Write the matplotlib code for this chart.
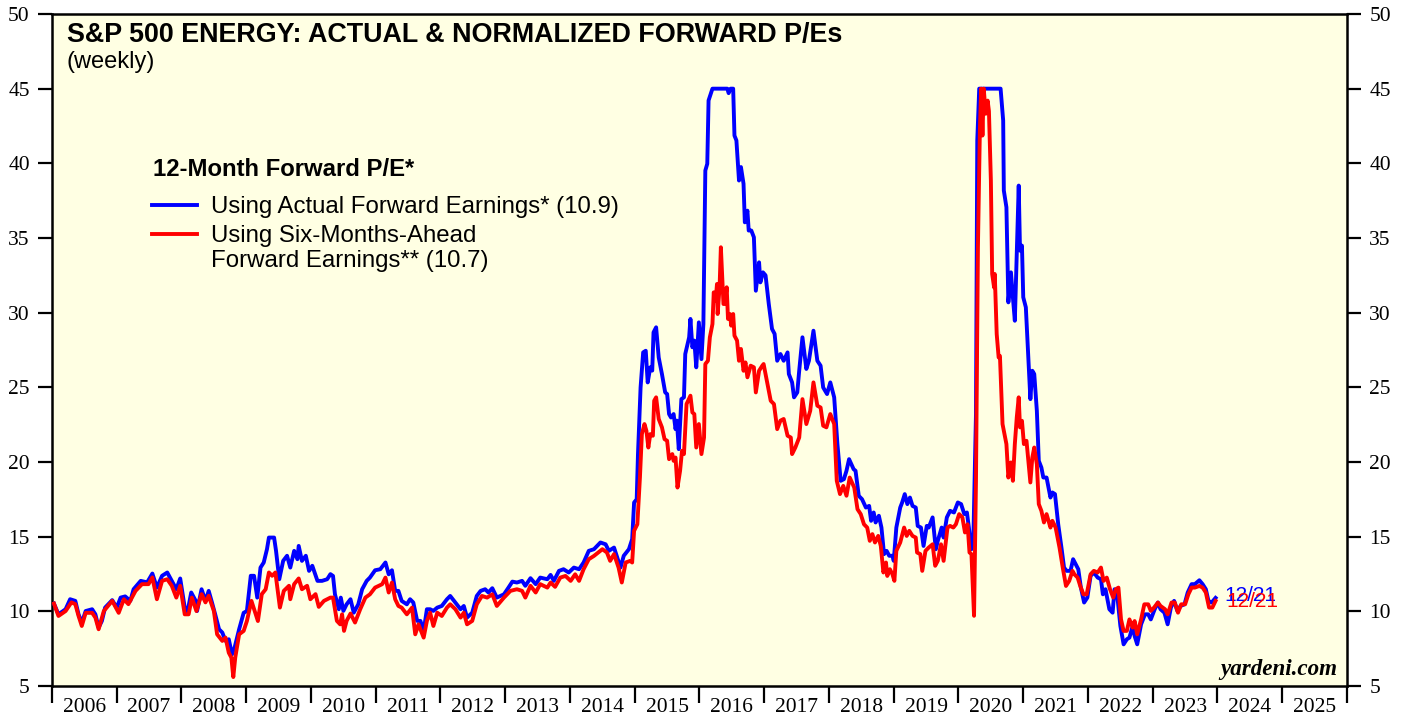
import matplotlib
matplotlib.use("Agg")
import matplotlib.pyplot as plt

# ---------------- data (decimal years, P/E values) ----------------
blue_t_a = [2006.03, 2006.10, 2006.21, 2006.28, 2006.36, 2006.41, 2006.46, 2006.52, 2006.62, 2006.67,
            2006.72, 2006.77, 2006.82, 2006.93, 2007.00, 2007.06, 2007.13, 2007.21, 2007.26, 2007.37,
            2007.47, 2007.55, 2007.62, 2007.70, 2007.78, 2007.85, 2007.92, 2007.98, 2008.05, 2008.09,
            2008.15, 2008.22, 2008.24, 2008.31, 2008.37, 2008.42, 2008.47, 2008.52, 2008.58, 2008.63,
            2008.68, 2008.73, 2008.78, 2008.82, 2008.89, 2008.96, 2009.01, 2009.07, 2009.12, 2009.17,
            2009.22, 2009.27, 2009.32, 2009.35, 2009.43, 2009.46, 2009.51, 2009.57, 2009.63, 2009.68,
            2009.74, 2009.79, 2009.81, 2009.86, 2009.92, 2009.97, 2010.02, 2010.10, 2010.17, 2010.25,
            2010.30]
blue_v_a = [10.52, 9.80, 10.14, 10.81, 10.70, 9.80, 9.24, 10.02, 10.14, 9.80,
            8.91, 9.35, 10.25, 10.75, 10.25, 10.92, 11.0, 10.7, 11.48, 12.04,
            11.94, 12.53, 11.59, 12.38, 12.6, 12.04, 11.48, 12.2, 10.25, 9.9,
            11.26, 10.7, 10.02, 11.48, 10.7, 11.37, 10.6, 9.8, 8.80, 8.58,
            8.02, 8.13, 7.12, 7.57, 8.80, 9.9, 10.02, 12.38, 12.38, 10.92,
            12.93, 13.27, 14.16, 14.94, 14.94, 14.05, 12.15, 13.38, 13.72, 12.93,
            14.05, 13.49, 14.38, 13.38, 13.72, 12.71, 13.05, 12.04, 12.04, 12.15,
            12.49]

blue_t_b = [2010.34, 2010.37, 2010.43, 2010.46, 2010.50, 2010.55, 2010.61, 2010.66, 2010.73, 2010.79,
            2010.86, 2010.91, 2010.99, 2011.07, 2011.15, 2011.20, 2011.25, 2011.30, 2011.35, 2011.40,
            2011.48, 2011.53, 2011.58, 2011.64, 2011.69, 2011.74, 2011.79, 2011.84, 2011.89, 2011.95,
            2012.02, 2012.10, 2012.15, 2012.23, 2012.31, 2012.36, 2012.41, 2012.49, 2012.56, 2012.62,
            2012.69, 2012.74, 2012.80, 2012.87, 2012.98, 2013.05, 2013.11, 2013.18, 2013.26, 2013.31,
            2013.39, 2013.47, 2013.54, 2013.65, 2013.70, 2013.75, 2013.83, 2013.90, 2013.98, 2014.06,
            2014.14, 2014.21, 2014.29, 2014.37, 2014.47, 2014.55, 2014.60, 2014.68, 2014.73, 2014.78,
            2014.83, 2014.91, 2014.96, 2014.99, 2015.03]
blue_v_b = [12.37, 11.14, 10.14, 10.92, 10.03, 10.47, 10.81, 9.91, 10.47, 11.48,
            12.04, 12.26, 12.75, 12.82, 13.27, 12.48, 12.75, 11.37, 11.37, 10.70,
            10.47, 10.81, 10.59, 9.36, 9.36, 8.69, 10.14, 10.14, 10.03, 10.25,
            10.36, 10.81, 11.03, 10.59, 10.14, 10.36, 9.58, 9.91, 11.03, 11.37,
            11.48, 11.26, 11.55, 10.92, 11.14, 11.59, 11.99, 11.93, 12.04, 11.71,
            12.22, 11.82, 12.26, 12.15, 12.44, 12.04, 12.71, 12.82, 12.6, 12.93,
            12.82, 13.27, 14.05, 14.16, 14.61, 14.49, 14.05, 14.27, 13.6, 12.93,
            13.72, 14.16, 14.83, 17.29, 17.5]

blue_t_c = [2015.05, 2015.09, 2015.13, 2015.17, 2015.20, 2015.24, 2015.27, 2015.29, 2015.33, 2015.37,
            2015.42, 2015.47, 2015.50, 2015.53, 2015.56, 2015.60, 2015.63, 2015.65, 2015.68, 2015.72,
            2015.76, 2015.78, 2015.84, 2015.86, 2015.89, 2015.92, 2015.95, 2015.99, 2016.03, 2016.06,
            2016.09, 2016.12, 2016.14, 2016.20, 2016.43, 2016.45, 2016.48, 2016.52, 2016.54, 2016.57,
            2016.61, 2016.64, 2016.68, 2016.70, 2016.74, 2016.76, 2016.80, 2016.84, 2016.87, 2016.92,
            2016.94, 2016.98, 2017.02, 2017.07, 2017.12, 2017.16, 2017.20, 2017.25, 2017.30, 2017.36,
            2017.38, 2017.43, 2017.46, 2017.51, 2017.54, 2017.59, 2017.65, 2017.69, 2017.76, 2017.82,
            2017.87, 2017.91, 2017.97, 2018.02, 2018.08, 2018.13, 2018.18, 2018.23, 2018.27, 2018.31]
blue_v_c = [20.53, 24.99, 27.34, 27.45, 25.33, 26.34, 26.12, 28.68, 29.02, 27.0,
            25.89, 24.66, 24.55, 23.21, 22.98, 23.21, 22.2, 22.77, 20.86, 24.21,
            24.33, 27.23, 28.35, 29.58, 27.68, 28.13, 26.34, 29.35, 26.89, 29.24,
            39.52, 39.97, 44.21, 45, 45, 44.7, 45, 45, 41.86, 41.53,
            38.85, 39.75, 38.63, 36.05, 36.83, 35.5, 35.5, 35.05, 31.47, 33.37,
            32.03, 32.7, 32.5, 30.58, 28.91, 28.58, 26.78, 27.23, 26.78, 27.34,
            25.89, 25.33, 24.33, 24.66, 26.12, 28.35, 26.23, 26.78, 28.79, 26.78,
            26.45, 24.99, 24.55, 25.33, 24.33, 21.2, 18.74, 18.85, 19.41, 20.19]

blue_t_d = [2018.38, 2018.41, 2018.46, 2018.51, 2018.57, 2018.62, 2018.65, 2018.69, 2018.72, 2018.77,
            2018.81, 2018.85, 2018.89, 2018.93, 2018.98, 2019.00, 2019.04, 2019.10, 2019.13, 2019.17,
            2019.21, 2019.25, 2019.29, 2019.34, 2019.37, 2019.42, 2019.46, 2019.51, 2019.54, 2019.60,
            2019.65, 2019.68, 2019.74, 2019.77, 2019.82, 2019.87, 2019.93, 2019.99, 2020.04, 2020.09,
            2020.13, 2020.16, 2020.20, 2020.23, 2020.27, 2020.29, 2020.32, 2020.65, 2020.69, 2020.70,
            2020.74, 2020.77, 2020.81, 2020.84, 2020.87, 2020.90, 2020.93, 2020.95, 2020.98, 2021.00,
            2021.04, 2021.07, 2021.11, 2021.14, 2021.17, 2021.21, 2021.24, 2021.28, 2021.31, 2021.36,
            2021.42, 2021.45, 2021.49, 2021.54, 2021.59, 2021.63, 2021.67]
blue_v_d = [19.52, 19.41, 17.73, 17.51, 16.95, 17.06, 16.06, 16.62, 15.95, 16.4,
            15.61, 13.83, 14.05, 13.72, 13.72, 13.38, 15.61, 16.95, 17.29, 17.85,
            17.18, 17.62, 17.06, 16.95, 15.72, 15.61, 14.38, 15.72, 15.61, 16.29,
            14.16, 14.72, 15.61, 14.94, 16.29, 16.73, 16.62, 17.29, 17.18, 16.51,
            16.62, 15.61, 14.16, 14.94, 23.21, 41.53, 45, 45, 42.87, 38.18,
            37.06, 30.69, 32.70, 31.03, 29.46, 33.93, 38.51, 34.15, 34.49, 31.03,
            30.36, 27.68, 24.21, 26.11, 25.89, 23.43, 20.08, 19.63, 18.96, 18.96,
            17.62, 17.96, 17.85, 15.83, 14.27, 12.93, 12.71]

blue_t_e = [2021.73, 2021.77, 2021.81, 2021.85, 2021.89, 2021.94, 2021.99, 2022.04, 2022.09, 2022.15,
            2022.20, 2022.23, 2022.27, 2022.33, 2022.38, 2022.41, 2022.45, 2022.50, 2022.55, 2022.60,
            2022.64, 2022.69, 2022.72, 2022.76, 2022.82, 2022.88, 2022.93, 2022.97, 2023.03, 2023.08,
            2023.12, 2023.18, 2023.23, 2023.28, 2023.33, 2023.38, 2023.43, 2023.49, 2023.54, 2023.60,
            2023.65, 2023.72, 2023.77, 2023.82, 2023.86, 2023.91, 2023.97]
blue_v_e = [12.71, 13.49, 13.16, 12.82, 11.59, 10.59, 10.92, 12.37, 12.6, 12.26,
            12.15, 11.14, 11.48, 10.14, 9.91, 11.48, 11.14, 9.02, 7.79, 8.13,
            8.24, 9.02, 8.35, 7.79, 9.13, 9.80, 9.80, 9.46, 10.14, 10.59,
            10.14, 9.91, 9.13, 10.25, 10.70, 10.03, 10.36, 10.47, 11.26, 11.82,
            11.82, 12.08, 11.82, 11.48, 10.70, 10.59, 10.9]

red_t_a = [2006.03, 2006.10, 2006.21, 2006.30, 2006.36, 2006.41, 2006.46, 2006.52, 2006.62, 2006.67,
           2006.72, 2006.80, 2006.93, 2007.03, 2007.11, 2007.18, 2007.29, 2007.39, 2007.49, 2007.55,
           2007.62, 2007.70, 2007.78, 2007.85, 2007.92, 2007.98, 2008.05, 2008.11, 2008.16, 2008.23,
           2008.31, 2008.37, 2008.42, 2008.50, 2008.55, 2008.63, 2008.68, 2008.73, 2008.77, 2008.80,
           2008.83, 2008.89, 2008.96, 2009.01, 2009.08, 2009.13, 2009.18, 2009.24, 2009.30, 2009.35,
           2009.40, 2009.45, 2009.52, 2009.58, 2009.66, 2009.68, 2009.74, 2009.81, 2009.86, 2009.94,
           2009.99, 2010.07, 2010.12, 2010.20, 2010.30]
red_v_a = [10.52, 9.69, 10.02, 10.6, 10.48, 9.69, 9.02, 9.9, 9.9, 9.58,
           8.80, 10.02, 10.7, 9.9, 10.81, 10.48, 11.37, 11.82, 11.82, 12.27,
           10.81, 12.04, 12.15, 11.71, 10.92, 11.71, 9.8, 9.8, 10.92, 10.02,
           11.15, 10.6, 11.04, 10.02, 8.46, 8.02, 8.24, 7.23, 6.90, 5.60,
           6.90, 8.46, 8.69, 9.35, 10.70, 10.02, 9.35, 11.15, 11.48, 12.6,
           12.38, 12.6, 10.25, 11.37, 11.71, 10.81, 11.82, 12.2, 11.48, 11.71,
           10.81, 11.15, 10.3, 10.7, 10.92]

red_t_b = [2010.34, 2010.40, 2010.45, 2010.48, 2010.51, 2010.55, 2010.61, 2010.68, 2010.76, 2010.84,
           2010.91, 2010.99, 2011.10, 2011.15, 2011.20, 2011.25, 2011.30, 2011.35, 2011.40, 2011.48,
           2011.56, 2011.61, 2011.66, 2011.74, 2011.79, 2011.84, 2011.89, 2011.95, 2012.02, 2012.10,
           2012.15, 2012.23, 2012.31, 2012.36, 2012.41, 2012.49, 2012.56, 2012.64, 2012.72, 2012.80,
           2012.87, 2012.98, 2013.08, 2013.18, 2013.26, 2013.31, 2013.39, 2013.47, 2013.54, 2013.65,
           2013.70, 2013.77, 2013.85, 2013.93, 2014.01, 2014.08, 2014.14, 2014.21, 2014.29, 2014.37,
           2014.50, 2014.57, 2014.62, 2014.68, 2014.75, 2014.80, 2014.86, 2014.93, 2014.96, 2014.99,
           2015.04]
red_v_b = [10.92, 9.36, 9.13, 9.80, 8.69, 9.36, 9.85, 9.25, 10.14, 10.92,
           11.14, 11.59, 11.82, 12.26, 11.26, 11.93, 10.81, 10.36, 10.25, 9.80,
           10.25, 8.46, 9.13, 8.24, 9.36, 9.91, 9.02, 9.91, 9.69, 10.25,
           10.47, 10.14, 9.58, 9.91, 9.13, 9.36, 10.47, 11.03, 10.92, 11.14,
           10.36, 10.92, 11.37, 11.48, 11.37, 10.92, 11.71, 11.26, 11.82, 11.59,
           11.93, 11.64, 12.26, 12.37, 12.04, 12.48, 12.04, 12.82, 13.49, 13.71,
           14.16, 13.94, 13.38, 13.83, 12.93, 11.93, 13.27, 13.38, 13.27, 15.39,
           15.83]

red_t_c = [2015.08, 2015.11, 2015.15, 2015.18, 2015.21, 2015.24, 2015.28, 2015.30, 2015.33, 2015.37,
           2015.42, 2015.46, 2015.50, 2015.53, 2015.58, 2015.60, 2015.63, 2015.66, 2015.70, 2015.73,
           2015.76, 2015.80, 2015.86, 2015.89, 2015.92, 2015.95, 2015.99, 2016.03, 2016.07, 2016.09,
           2016.13, 2016.16, 2016.20, 2016.22, 2016.25, 2016.27, 2016.28, 2016.31, 2016.33, 2016.37,
           2016.39, 2016.42, 2016.44, 2016.47, 2016.49, 2016.52, 2016.54, 2016.58, 2016.61, 2016.64,
           2016.68, 2016.71, 2016.74, 2016.79, 2016.84, 2016.87, 2016.92, 2016.97, 2016.99, 2017.05,
           2017.10, 2017.15, 2017.20, 2017.25, 2017.30, 2017.36, 2017.41, 2017.43, 2017.48, 2017.54,
           2017.59, 2017.65, 2017.71, 2017.76, 2017.82, 2017.87, 2017.91, 2017.96, 2018.02, 2018.08,
           2018.12, 2018.17, 2018.22, 2018.27, 2018.32]
red_v_c = [18.96, 21.87, 22.54, 22.09, 20.97, 21.87, 21.76, 24.10, 24.33, 22.88,
           22.32, 21.53, 21.42, 20.19, 20.53, 20.08, 20.3, 18.29, 19.41, 20.75,
           20.53, 23.88, 24.44, 23.32, 23.21, 20.97, 22.54, 20.53, 21.64, 26.56,
           26.78, 28.35, 29.24, 31.36, 30.8, 31.92, 29.91, 31.7, 34.38, 30.58,
           30.58, 31.7, 29.58, 29.91, 29.13, 29.91, 28.46, 28.13, 26.78, 27.57,
           26.11, 26.67, 25.67, 26.45, 26.34, 24.66, 26.11, 26.45, 26.56, 25.22,
           24.10, 23.88, 22.2, 22.77, 22.88, 21.76, 21.64, 20.53, 20.97, 21.64,
           24.21, 22.54, 23.43, 25.33, 23.77, 23.65, 22.43, 22.32, 23.21, 22.54,
           18.74, 17.85, 18.40, 17.74, 18.96]

red_t_d = [2018.39, 2018.44, 2018.49, 2018.54, 2018.59, 2018.63, 2018.67, 2018.71, 2018.76, 2018.80,
           2018.84, 2018.88, 2018.90, 2018.94, 2018.98, 2019.01, 2019.04, 2019.10, 2019.16, 2019.20,
           2019.24, 2019.29, 2019.34, 2019.36, 2019.41, 2019.44, 2019.49, 2019.54, 2019.60, 2019.64,
           2019.68, 2019.73, 2019.77, 2019.83, 2019.87, 2019.92, 2019.96, 2020.01, 2020.06, 2020.10,
           2020.14, 2020.17, 2020.20, 2020.24, 2020.27, 2020.30, 2020.33, 2020.35, 2020.37, 2020.39,
           2020.42, 2020.45, 2020.47, 2020.50, 2020.52, 2020.55, 2020.56, 2020.59, 2020.62, 2020.64,
           2020.68, 2020.71, 2020.74, 2020.77, 2020.81, 2020.84, 2020.87, 2020.90, 2020.93, 2020.95,
           2020.98, 2021.01, 2021.05, 2021.11, 2021.14, 2021.17, 2021.21, 2021.24, 2021.28, 2021.32,
           2021.36, 2021.42, 2021.45, 2021.50, 2021.56, 2021.61, 2021.66, 2021.71]
red_v_d = [18.29, 16.84, 16.51, 15.83, 15.61, 14.72, 15.17, 14.61, 15.05, 14.38,
           12.60, 13.27, 12.37, 12.82, 12.48, 12.04, 14.05, 14.61, 15.61, 15.05,
           15.39, 15.05, 14.94, 13.94, 13.83, 12.71, 14.05, 14.27, 14.49, 13.05,
           13.38, 14.49, 13.38, 15.61, 15.72, 15.61, 15.83, 16.51, 16.29, 15.28,
           15.83, 13.94, 13.83, 9.7, 18.74, 34.38, 42.2, 45, 41.86, 45,
           43.32, 44.2, 43.5, 38.85, 32.59, 31.69, 32.59, 28.57, 27.0, 27.1,
           22.54, 21.87, 21.2, 18.96, 19.97, 18.74, 21.2, 22.99, 24.33, 22.32,
           22.76, 21.2, 21.42, 18.63, 20.3, 20.97, 19.85, 17.18, 16.73, 15.95,
           16.51, 15.61, 16.06, 15.61, 14.27, 12.93, 11.70, 12.04]

red_t_e = [2021.76, 2021.79, 2021.84, 2021.88, 2021.93, 2021.98, 2022.04, 2022.09, 2022.15, 2022.20,
           2022.24, 2022.29, 2022.34, 2022.39, 2022.43, 2022.47, 2022.51, 2022.55, 2022.60, 2022.64,
           2022.69, 2022.72, 2022.76, 2022.82, 2022.87, 2022.93, 2022.97, 2023.02, 2023.08, 2023.12,
           2023.19, 2023.23, 2023.29, 2023.34, 2023.39, 2023.44, 2023.50, 2023.55, 2023.60, 2023.65,
           2023.72, 2023.77, 2023.82, 2023.87, 2023.92, 2023.97]
red_v_e = [12.71, 12.48, 12.26, 11.70, 11.14, 11.14, 12.48, 12.71, 12.6, 12.93,
           12.04, 12.26, 11.48, 10.92, 11.48, 11.59, 9.46, 8.69, 8.69, 9.46,
           8.91, 9.35, 8.46, 9.46, 10.47, 10.47, 10.03, 10.25, 10.59, 10.36,
           10.14, 9.80, 10.59, 10.59, 9.91, 10.47, 10.47, 11.14, 11.59, 11.59,
           11.70, 11.59, 11.26, 10.25, 10.25, 10.70]

years = list(range(2006, 2026))
yticks = list(range(5, 51, 5))
last_label = "12/21"
title = "S&P 500 ENERGY: ACTUAL & NORMALIZED FORWARD P/Es"
subtitle = "(weekly)"
legend_title = "12-Month Forward P/E*"
blue_label = "Using Actual Forward Earnings* (10.9)"
red_label_1 = "Using Six-Months-Ahead"
red_label_2 = "Forward Earnings** (10.7)"

blue_t = blue_t_a + blue_t_b + blue_t_c + blue_t_d + blue_t_e
blue_v = blue_v_a + blue_v_b + blue_v_c + blue_v_d + blue_v_e
red_t = red_t_a + red_t_b + red_t_c + red_t_d + red_t_e
red_v = red_v_a + red_v_b + red_v_c + red_v_d + red_v_e
assert len(blue_t) == len(blue_v) and len(red_t) == len(red_v)

# ---------------- figure ----------------
W, H = 1407, 717
fig = plt.figure(figsize=(W / 100, H / 100), dpi=100)
L, R, T, B = 52, 1347, 14, 686
ax = fig.add_axes([L / W, 1 - B / H, (R - L) / W, (B - T) / H])
ax.set_facecolor("#FFFFE3")

BLUE = "#0000FF"
RED = "#FF0000"
LW = 2.8
ax.plot(blue_t, blue_v, color=BLUE, lw=LW, solid_joinstyle="round", zorder=3)
ax.plot(red_t, red_v, color=RED, lw=LW, solid_joinstyle="round", zorder=4)

ax.set_xlim(2006, 2026)
ax.set_ylim(5, 50)

serif = "Liberation Serif"
sans = "Liberation Sans"

ax.set_yticks(yticks)
ax.set_yticklabels([str(v) for v in yticks], fontfamily=serif, fontsize=15.5)
ax.tick_params(axis="y", which="major", direction="out", length=10, width=1.6,
               left=True, right=True, labelleft=True, labelright=True, pad=6)

ax.set_xticks(list(range(2006, 2027)))
ax.set_xticklabels([])
ax.set_xticks([y + 0.5 for y in years], minor=True)
ax.set_xticklabels([str(y) for y in years], minor=True, fontfamily=serif, fontsize=15.5)
ax.tick_params(axis="x", which="major", direction="out", length=12.5, width=1.6)
ax.tick_params(axis="x", which="minor", length=0, pad=9)

for sp in ax.spines.values():
    sp.set_linewidth(1.8)
    sp.set_color("black")

# ---------------- text ----------------
def ax_xy(px, py):
    return ((px - L) / (R - L), (B - py) / (B - T))

ax.text(*ax_xy(67, 42), title, transform=ax.transAxes, fontfamily=sans,
        fontweight="bold", fontsize=19.4, va="baseline", ha="left")
ax.text(*ax_xy(67, 68), subtitle, transform=ax.transAxes, fontfamily=sans,
        fontsize=17, va="baseline", ha="left")

ax.text(*ax_xy(153, 176), legend_title, transform=ax.transAxes, fontfamily=sans,
        fontweight="bold", fontsize=17.2, va="baseline", ha="left")
x0, _ = ax_xy(152, 0)
x1, _ = ax_xy(197, 0)
_, yb = ax_xy(0, 205)
_, yr = ax_xy(0, 234)
ax.plot([x0, x1], [yb, yb], transform=ax.transAxes, color=BLUE, lw=LW)
ax.plot([x0, x1], [yr, yr], transform=ax.transAxes, color=RED, lw=LW)
ax.text(*ax_xy(211, 213), blue_label, transform=ax.transAxes, fontfamily=sans,
        fontsize=17.3, va="baseline", ha="left")
ax.text(*ax_xy(211, 242), red_label_1, transform=ax.transAxes, fontfamily=sans,
        fontsize=17.3, va="baseline", ha="left")
ax.text(*ax_xy(211, 267), red_label_2, transform=ax.transAxes, fontfamily=sans,
        fontsize=17.3, va="baseline", ha="left")

ax.text(*ax_xy(1337, 675), "yardeni.com", transform=ax.transAxes, fontfamily=serif,
        fontweight="bold", fontstyle="italic", fontsize=16.6, va="baseline", ha="right")

ax.annotate(last_label, xy=(blue_t[-1], blue_v[-1]), xytext=(6, 1.5), textcoords="offset points",
            color=BLUE, fontfamily=sans, fontsize=15, va="center", ha="left", zorder=5)
ax.annotate(last_label, xy=(red_t[-1], red_v[-1]), xytext=(8, -0.5), textcoords="offset points",
            color=RED, fontfamily=sans, fontsize=15, va="center", ha="left", zorder=6)

fig.savefig("out.png", dpi=100)
